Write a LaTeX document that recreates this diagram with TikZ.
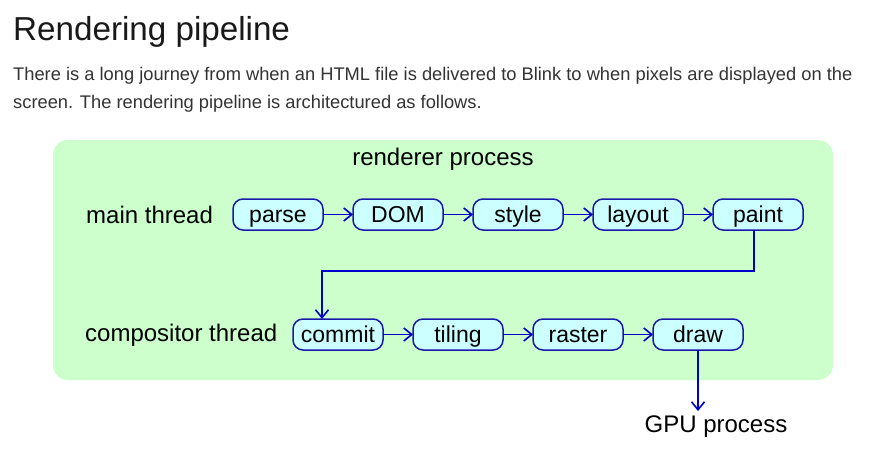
\documentclass[tikz,border=0pt]{standalone}
\usepackage{fontspec}
\setmainfont{Liberation Sans}
\usepackage{xcolor}
\usepackage{tikz}
\usetikzlibrary{arrows.meta,positioning}
\definecolor{procgreen}{HTML}{CCFFCC}
\definecolor{stagefill}{HTML}{CCFFFF}
\definecolor{stageline}{HTML}{1A1AAA}
\definecolor{flowblue}{HTML}{0000CC}
\tikzset{
	stage/.style={draw=stageline, line width=1.5pt, fill=stagefill, rounded corners=10pt,
		minimum width=90pt, minimum height=31pt, inner sep=0pt, outer sep=0pt,
		text height=18pt, text depth=3pt, font=\fontsize{23}{27}\selectfont},
	label/.style={inner sep=0pt, font=\fontsize{24}{28}\selectfont},
	intro/.style={anchor=base west, inner sep=0pt, text=black!80, font=\fontsize{18.3}{28}\selectfont},
	flow/.style={draw=flowblue, line width=1.6pt, -{Straight Barb[length=8pt,width=13pt]}}
}

\begin{document}
\begin{tikzpicture}[x=1pt,y=-1pt]
			\useasboundingbox[fill=white] (0,0) rectangle (883,456);
			
			\node[anchor=base west, inner sep=0pt, text=black!90, font=\fontsize{33.2}{38}\selectfont] (title) at (13,40) {Rendering pipeline};
			\node[intro] (intro-1) at (13,80) {There is a long journey from when an HTML file is delivered to Blink to when pixels are displayed on the};
			\node[intro] (intro-2) at (13,108) {screen. The rendering pipeline is architectured as follows.};
			
			\node[fill=procgreen, rounded corners=15pt, minimum width=780pt, minimum height=240pt] (renderer) at (443,260) {};
			\node[label, below=8pt of renderer.north] (renderer-label) {renderer process};
			
			\node[stage] (parse) at (278,214.5) {parse};
			\node[stage, right=30pt of parse] (dom) {DOM};
			\node[stage, right=30pt of dom] (style) {style};
			\node[stage, right=30pt of style] (layout) {layout};
			\node[stage, right=30pt of layout] (paint) {paint};
			
			\node[stage] (commit) at (338,334.5) {commit};
			\node[stage, right=30pt of commit] (tiling) {tiling};
			\node[stage, right=30pt of tiling] (raster) {raster};
			\node[stage, right=30pt of raster] (draw) {draw};
			
			\node[label, anchor=west] (main-thread) at (86,215) {main thread};
			\node[label, anchor=west] (compositor-thread) at (85,335) {compositor thread};
			\node[label, anchor=base, inner sep=4pt] (gpu) at (716,432) {GPU process};
			
			\draw[flow] (parse) -- (dom); \draw[flow] (dom) -- (style);
			\draw[flow] (style) -- (layout); \draw[flow] (layout) -- (paint);
			\draw[flow] ([xshift=-4pt]paint.south) -- ++(0,41) -| ([xshift=-16pt]commit.north);
			\draw[flow] (commit) -- (tiling); \draw[flow] (tiling) -- (raster);
			\draw[flow] (raster) -- (draw);
			\draw[flow] (draw.south) -- (draw.south |- gpu.north);
			
		\end{tikzpicture}
\end{document}
